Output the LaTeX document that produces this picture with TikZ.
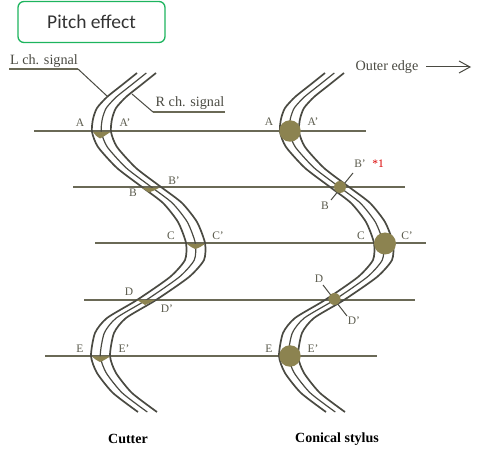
\documentclass[tikz,border=0pt]{standalone}
\usepackage{fontspec}
\setmainfont{Liberation Serif}
\newfontfamily\titlefont{Carlito}
\definecolor{olive}{HTML}{8C8350}
\definecolor{wall}{HTML}{4A4A42}
\definecolor{rulecol}{HTML}{6A6956}
\definecolor{lab}{HTML}{5A5A4C}
\definecolor{boxgreen}{HTML}{1DB45E}
\newcommand{\wallpts}{(137,73) (122,85) (107,97) (97,108) (93,119) (92,132) (98,147) (117,168) (142,187) (163,203) (178,222) (186,243) (185,260) (170,277) (137,300) (107,318) (95,333) (91,356) (97,373) (113,393) (138,412)}
\newcommand{\groove}{%
  \foreach \dx/\wd in {0/1.7,9.3/1.2,19/1.7}{
    \draw[wallline,line width=\wd pt,xshift=\dx pt] plot[smooth,tension=0.4] coordinates {\wallpts};
  }}
\tikzset{
  wallline/.style={draw=wall,line cap=butt},
  hline/.style={draw=rulecol,line width=1.4pt},
  leader/.style={draw=wall,line width=1pt},
  underl/.style={draw=rulecol,line width=1.3pt},
  blob/.style={fill=olive,draw=none},
  lbl/.style={text=lab,font=\fontsize{11.5}{14}\selectfont,inner sep=0pt},
  sig/.style={text=wall,font=\fontsize{14.2}{16}\selectfont,inner sep=0pt},
  captext/.style={text=black,font=\bfseries\fontsize{14}{16}\selectfont,inner sep=0pt},
}
\begin{document}
\begin{tikzpicture}[x=1pt,y=-1pt]
\useasboundingbox (0,0) rectangle (480,454);
\node[draw=boxgreen,line width=1.3pt,rounded corners=6pt,minimum width=147pt,minimum height=41pt,inner sep=0pt,font=\titlefont\fontsize{19.5}{22}\selectfont,text=black!80] (title) at (91.5,22) {Pitch effect};

% scan lines
\foreach \y/\a/\b [count=\i] in {131/34/366,187/73/405,243/95/426,300/84/415,356/45/377}{
  \coordinate (l\i) at (\a,\y); \coordinate (r\i) at (\b,\y);
  \draw[hline] (l\i) -- (r\i);
}
% leaders
\coordinate (L0) at (9,69); \coordinate (L1) at (78,69); \coordinate (L2) at (107,96);
\coordinate (R0) at (225,112); \coordinate (R1) at (153,112); \coordinate (R2) at (132,94);
\draw[underl] (L0) -- (L1); \draw[leader] (L1) -- (L2);
\draw[underl] (R0) -- (R1); \draw[leader] (R1) -- (R2);
\coordinate (Ba) at (331,200); \coordinate (Bb) at (353,173);
\coordinate (Da) at (323,285); \coordinate (Db) at (347,316);
\draw[leader] (Ba) -- (Bb); \draw[leader] (Da) -- (Db);

% grooves
\groove
\begin{scope}[xshift=188pt]\groove\end{scope}

% cutter wedges
\fill[blob] (93,132) -- (110.5,132) .. controls (106,135) and (103,137) .. (100,138.5) .. controls (97,137) and (95,135) .. cycle;
\fill[blob] (142,188) -- (159,188) .. controls (155,190) and (152,191.5) .. (149,192.5) .. controls (147,191) and (145,190) .. cycle;
\fill[blob] (187,244) -- (205,244) .. controls (202,246) and (199,248) .. (195,249) .. controls (192,248) and (190,246) .. cycle;
\fill[blob] (137,300) -- (155,300) .. controls (151,302) and (148,304) .. (145,305) .. controls (142,303) and (140,302) .. cycle;
\fill[blob] (92,356.5) -- (110,356.5) .. controls (106,359) and (103,361) .. (100,362) .. controls (97,361) and (95,359) .. cycle;

% stylus circles
\node[blob,circle,minimum size=21.5pt,inner sep=0pt] (sA) at (290,131) {};
\node[blob,circle,minimum size=12pt,inner sep=0pt] (sB) at (340,187) {};
\node[blob,circle,minimum size=22pt,inner sep=0pt] (sC) at (385,243.5) {};
\node[blob,circle,minimum size=12pt,inner sep=0pt] (sD) at (334.5,299) {};
\node[blob,circle,minimum size=21.5pt,inner sep=0pt] (sE) at (290,356) {};

% signal labels
\node[sig] (lch) at (44,61) {L ch. signal};
\node[sig] (rch) at (190,103.5) {R ch. signal};
\node[sig] (outer) at (387,67) {Outer edge};
\coordinate (arA) at (426,67); \coordinate (arB) at (470,67);
\draw[draw=wall,line width=1pt] (arA) -- (arB);
\coordinate (t1) at (459,61); \coordinate (t2) at (459,73);
\draw[draw=wall,line width=1pt] (t1) -- (arB) -- (t2);

% point labels left
\node[lbl] (a1) at (80,123) {A};
\node[lbl] (a2) at (125,123) {A'};
\node[lbl] (b1) at (133,193) {B};
\node[lbl] (b2) at (174,181) {B'};
\node[lbl] (c1) at (171,236) {C};
\node[lbl] (c2) at (218,236) {C'};
\node[lbl] (d1) at (129,292) {D};
\node[lbl] (d2) at (167,309) {D'};
\node[lbl] (e1) at (80,349) {E};
\node[lbl] (e2) at (124,349) {E'};
% point labels right
\node[lbl] (a3) at (269,122) {A};
\node[lbl] (a4) at (313,122) {A'};
\node[lbl] (b3) at (325,206) {B};
\node[lbl] (b4) at (360,164) {B'};
\node[text=red!85!black,font=\fontsize{11.5}{14}\selectfont,inner sep=0pt] (star) at (378,164) {*1};
\node[lbl] (c3) at (361,236) {C};
\node[lbl] (c4) at (407,236) {C'};
\node[lbl] (d3) at (319,279) {D};
\node[lbl] (d4) at (354,321) {D'};
\node[lbl] (e3) at (269,349) {E};
\node[lbl] (e4) at (313,349) {E'};

\node[captext] (cut) at (128,439) {Cutter};
\node[captext] (con) at (337,439.5) {Conical stylus};
\end{tikzpicture}
\end{document}
